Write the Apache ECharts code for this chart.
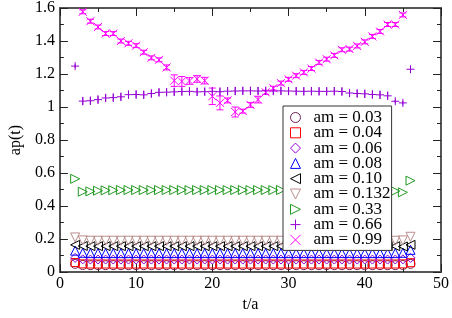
<!DOCTYPE html>
<html><head><meta charset="utf-8">
<script src="https://cdn.jsdelivr.net/npm/echarts@6/dist/echarts.min.js"></script>
<style>html,body{margin:0;padding:0;background:#fff}#c{width:452px;height:318px}</style>
</head><body><div id="c"></div>
<script>
// time slices
const tFull = [2,3,4,5,6, 7,8,9,10,11, 12,13,14,15,16, 17,18,19,20,21, 22,23,24,25,26, 27,28,29,30,31, 32,33,34,35,36, 37,38,39,40,41, 42,43,44,45,46];
const tMid = [3,4,5,6, 7,8,9,10,11, 12,13,14,15,16, 17,18,19,20,21, 22,23,24,25,26, 27,28,29,30,31, 32,33,34,35,36, 37,38,39,40,41, 42,43,44,45];

const xTicks = [0,10,20,30,40,50];
const yTicks = [0,0.2,0.4,0.6,0.8,1,1.2,1.4,1.6];

const names = ['am = 0.03','am = 0.04','am = 0.06','am = 0.08','am = 0.10','am = 0.132','am = 0.33','am = 0.66','am = 0.99'];

const am003 = [0.050,0.043,0.042,0.042,0.042, 0.042,0.042,0.042,0.042,0.042, 0.042,0.042,0.042,0.042,0.042, 0.042,0.042,0.042,0.042,0.042, 0.042,0.042,0.042,0.042,0.042, 0.042,0.042,0.042,0.042,0.042, 0.042,0.042,0.042,0.042,0.042, 0.042,0.042,0.042,0.042,0.042, 0.042,0.042,0.042,0.043,0.050];
const am004 = [0.058,0.050,0.049,0.049,0.049, 0.049,0.049,0.049,0.049,0.049, 0.049,0.049,0.049,0.049,0.049, 0.049,0.049,0.049,0.049,0.049, 0.049,0.049,0.049,0.049,0.049, 0.049,0.049,0.049,0.049,0.049, 0.049,0.049,0.049,0.049,0.049, 0.049,0.049,0.049,0.049,0.049, 0.049,0.049,0.049,0.050,0.057];
const am006 = [0.086,0.077,0.076,0.076,0.076, 0.076,0.076,0.076,0.076,0.076, 0.076,0.076,0.076,0.076,0.076, 0.076,0.076,0.076,0.076,0.076, 0.076,0.076,0.076,0.076,0.076, 0.076,0.076,0.076,0.076,0.076, 0.076,0.076,0.076,0.076,0.076, 0.076,0.076,0.076,0.076,0.076, 0.076,0.076,0.076,0.077,0.086];
const am008 = [0.130,0.117,0.115,0.115,0.115, 0.115,0.115,0.115,0.115,0.115, 0.115,0.115,0.115,0.115,0.115, 0.115,0.115,0.115,0.115,0.115, 0.115,0.115,0.115,0.115,0.115, 0.115,0.115,0.115,0.115,0.115, 0.115,0.115,0.115,0.115,0.115, 0.115,0.115,0.115,0.115,0.115, 0.115,0.115,0.115,0.117,0.135];
const am010 = [0.165,0.158,0.157,0.157,0.157, 0.157,0.157,0.157,0.157,0.157, 0.157,0.157,0.157,0.157,0.157, 0.157,0.157,0.157,0.157,0.157, 0.157,0.157,0.157,0.157,0.157, 0.157,0.157,0.157,0.157,0.157, 0.157,0.157,0.157,0.157,0.157, 0.157,0.157,0.157,0.157,0.157, 0.157,0.157,0.157,0.155,0.165];
const am0132 = [0.210,0.192,0.190,0.190,0.190, 0.190,0.190,0.190,0.190,0.190, 0.190,0.190,0.190,0.190,0.190, 0.190,0.190,0.190,0.190,0.190, 0.190,0.190,0.190,0.190,0.190, 0.190,0.190,0.190,0.190,0.190, 0.190,0.190,0.190,0.190,0.190, 0.190,0.190,0.190,0.190,0.190, 0.190,0.190,0.190,0.192,0.214];
const am033 = [0.565,0.487,0.489,0.493,0.495, 0.496,0.497,0.497,0.497,0.497, 0.497,0.497,0.497,0.497,0.497, 0.497,0.497,0.497,0.497,0.497, 0.497,0.497,0.497,0.497,0.497, 0.497,0.497,0.497,0.497,0.497, 0.497,0.497,0.497,0.497,0.497, 0.497,0.497,0.497,0.497,0.497, 0.497,0.496,0.491,0.483,0.554];
const am066 = [1.248,1.036,1.038,1.045,1.055, 1.057,1.062,1.075,1.076,1.074, 1.082,1.089,1.090,1.092,1.094, 1.095,1.092,1.093,1.095,1.093, 1.096,1.097,1.098,1.098,1.097, 1.098,1.097,1.098,1.097,1.096, 1.095,1.096,1.095,1.095,1.096, 1.094,1.085,1.082,1.080,1.076, 1.074,1.068,1.035,1.025,1.229];
const am066Err = [0.012,0.025,0.025,0.025,0.025, 0.025,0.025,0.025,0.025,0.025, 0.025,0.025,0.025,0.025,0.025, 0.025,0.025,0.025,0.025,0.025, 0.025,0.025,0.025,0.025,0.025, 0.025,0.025,0.025,0.025,0.025, 0.025,0.025,0.025,0.025,0.025, 0.025,0.025,0.025,0.025,0.025, 0.025,0.025,0.012,0.012,0.012];
const am099 = [1.577,1.520,1.485,1.445, 1.445,1.400,1.386,1.372,1.332, 1.298,1.286,1.240,1.160,1.155, 1.158,1.170,1.160,1.065,1.025, 1.040,0.970,0.975,1.013,1.045, 1.089,1.114,1.145,1.168,1.190, 1.210,1.233,1.270,1.290,1.313, 1.347,1.351,1.370,1.395,1.428, 1.458,1.500,1.500,1.558];
const am099Err = [0.012,0.012,0.012,0.012, 0.012,0.012,0.012,0.012,0.012, 0.012,0.012,0.015,0.035,0.030, 0.020,0.020,0.020,0.050,0.042, 0.015,0.030,0.012,0.015,0.020, 0.012,0.012,0.012,0.012,0.012, 0.012,0.012,0.012,0.012,0.012, 0.012,0.012,0.012,0.012,0.012, 0.012,0.012,0.012,0.012];

const colors = ['#702050','#ff0000','#9400d3','#0000ff','#000000','#bc8f8f','#1f9a1f','#9400d3','#ff00ff'];
const symbols = ['circle','rect','diamond',
  'path://M5,0L10,10L0,10Z',
  'path://M10,0L0,5L10,10Z',
  'path://M0,0L10,0L5,10Z',
  'path://M0,0L10,5L0,10Z',
  'path://M0,5L10,5M5,0L5,10',
  'path://M0,0L10,10M0,10L10,0'];
const sizes = [9,8,9,9,9,9,9,8,8];
const values = [am003,am004,am006,am008,am010,am0132,am033,am066,am099];
const xs = [tFull,tFull,tFull,tFull,tFull,tFull,tFull,tFull,tMid];

const FONT = 'Liberation Serif';

function pairs(x, y) { return x.map((t, i) => [t, y[i]]); }
function errData(x, y, e) { return x.map((t, i) => [t, y[i] - e[i], y[i] + e[i]]); }

function errRender(cap) {
  return function (params, api) {
    const x = api.value(0), lo = api.value(1), hi = api.value(2);
    const p1 = api.coord([x, lo]), p2 = api.coord([x, hi]);
    const st = { stroke: api.visual('color'), lineWidth: 1 };
    const ch = [{ type: 'line', shape: { x1: p1[0], y1: p1[1], x2: p2[0], y2: p2[1] }, style: st }];
    if (cap) {
      ch.push({ type: 'line', shape: { x1: p1[0] - cap, y1: p1[1], x2: p1[0] + cap, y2: p1[1] }, style: st });
      ch.push({ type: 'line', shape: { x1: p2[0] - cap, y1: p2[1], x2: p2[0] + cap, y2: p2[1] }, style: st });
    }
    return { type: 'group', children: ch };
  };
}

const series = values.map((v, i) => ({
  name: names[i],
  type: 'scatter',
  data: pairs(xs[i], v),
  symbol: symbols[i],
  symbolSize: sizes[i],
  symbolKeepAspect: true,
  itemStyle: { color: 'rgba(0,0,0,0)', borderColor: colors[i], borderWidth: 1, opacity: 1 },
  emphasis: { disabled: true },
  z: 3
}));
series.push({
  type: 'custom', name: 'err066', data: errData(tFull, am066, am066Err),
  renderItem: errRender(0), itemStyle: { color: colors[7] }, z: 2, silent: true
});
series.push({
  type: 'custom', name: 'err099', data: errData(tMid, am099, am099Err),
  renderItem: errRender(3.5), itemStyle: { color: colors[8] }, z: 2, silent: true
});

const axisLine = { show: true, onZero: false, lineStyle: { color: '#555', width: 2 } };
const tick = { show: true, inside: true, length: 8, lineStyle: { color: '#222', width: 1 } };
const minor = { show: true, splitNumber: 2, length: 4, lineStyle: { color: '#222', width: 1 } };
const lbl = { fontFamily: FONT, fontSize: 16, color: '#000' };

const option = {
  animation: false,
  backgroundColor: '#fff',
  grid: { left: 43, right: 9, top: 6, bottom: 33 },
  xAxis: [
    { type: 'value', min: xTicks[0], max: xTicks[xTicks.length - 1], interval: 10,
      axisLine, axisTick: tick, minorTick: minor, splitLine: { show: false },
      axisLabel: Object.assign({ margin: 4 }, lbl),
      name: 't/a', nameLocation: 'middle', nameGap: 20, nameTextStyle: lbl },
    { type: 'value', position: 'top', min: xTicks[0], max: xTicks[xTicks.length - 1], interval: 10,
      axisLine, axisTick: tick, minorTick: minor, splitLine: { show: false }, axisLabel: { show: false } }
  ],
  yAxis: [
    { type: 'value', min: yTicks[0], max: yTicks[yTicks.length - 1], interval: 0.2,
      axisLine, axisTick: tick, minorTick: minor, splitLine: { show: false },
      axisLabel: Object.assign({ margin: 5 }, lbl),
      name: 'ap(t)', nameLocation: 'middle', nameGap: 28, nameRotate: 90, nameTextStyle: lbl },
    { type: 'value', position: 'right', min: yTicks[0], max: yTicks[yTicks.length - 1], interval: 0.2,
      axisLine, axisTick: tick, minorTick: minor, splitLine: { show: false }, axisLabel: { show: false } }
  ],
  legend: {
    data: names, orient: 'vertical', left: 283, top: 106,
    itemWidth: 10, itemHeight: 10, itemGap: -1.7, padding: [3, 1, 2, 7],
    backgroundColor: '#fff', borderColor: '#333', borderWidth: 1, borderRadius: 0,
    selectedMode: false, symbolKeepAspect: true,
    itemStyle: { borderWidth: 1 },
    textStyle: { fontFamily: FONT, fontSize: 17, color: '#000', padding: [0, 0, 0, 8] }
  },
  series
};

const chart = echarts.init(document.getElementById('c'), null, { renderer: 'canvas' });
chart.setOption(option);
</script>
</body></html>
